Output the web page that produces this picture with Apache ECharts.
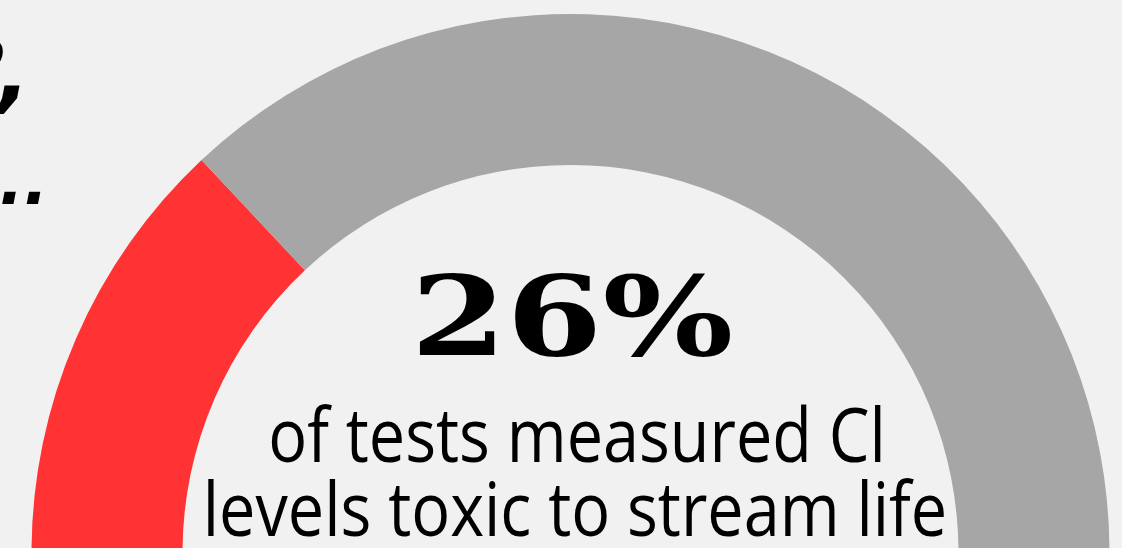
<!DOCTYPE html>
<html>
<head>
<meta charset="utf-8">
<script src="https://cdn.jsdelivr.net/npm/echarts@6/dist/echarts.min.js"></script>
<style>
  html, body { margin: 0; padding: 0; background: #f1f1f1; }
  #chart { width: 1122px; height: 548px; }
</style>
</head>
<body>
<div id="chart"></div>
<script>
// share of tests with toxic chloride levels
const categories = ['Toxic', 'Not toxic']
const values = [26, 74]
const colors = ['#ff3333', '#a6a6a6']
const captionLines = ['of tests measured Cl', 'levels toxic to stream life']

let myChart = echarts.init(document.getElementById('chart'))
myChart.setOption({
  backgroundColor: '#f1f1f1',
  animation: false,
  series: [
    {
      type: 'pie',
      center: [570.5, 553],
      radius: [388, 539],
      startAngle: 180,
      endAngle: 0,
      clockwise: true,
      silent: true,
      label: { show: false },
      labelLine: { show: false },
      data: categories.map(function (name, i) {
        return { name: name, value: values[i], itemStyle: { color: colors[i] } }
      })
    }
  ],
  graphic: [
    {
      type: 'text',
      x: 572,
      y: 382,
      scaleX: 1.24,
      style: {
        text: values[0] + '%',
        fontFamily: 'DejaVu Serif',
        fontWeight: 'bold',
        fontSize: 111,
        align: 'center',
        verticalAlign: 'bottom',
        fill: '#000'
      }
    },
    {
      type: 'text',
      x: 577,
      y: 441,
      scaleX: 0.863,
      style: {
        text: captionLines[0],
        fontFamily: 'Open Sans',
        fontSize: 75,
        align: 'center',
        verticalAlign: 'middle',
        fill: '#000'
      }
    },
    {
      type: 'text',
      x: 575,
      y: 515,
      scaleX: 0.863,
      style: {
        text: captionLines[1],
        fontFamily: 'Open Sans',
        fontSize: 75,
        align: 'center',
        verticalAlign: 'middle',
        fill: '#000'
      }
    },
    // cut-off text on the left edge
    {
      type: 'text',
      x: 5,
      y: 80,
      style: {
        text: '?',
        fontFamily: 'DejaVu Sans',
        fontStyle: 'italic',
        fontWeight: 'bold',
        fontSize: 85,
        align: 'right',
        verticalAlign: 'middle',
        fill: '#000'
      }
    },
    {
      type: 'text',
      x: 30,
      y: 80,
      style: {
        text: ',',
        fontFamily: 'DejaVu Sans',
        fontStyle: 'italic',
        fontWeight: 'bold',
        fontSize: 85,
        align: 'right',
        verticalAlign: 'middle',
        fill: '#000'
      }
    },
    {
      type: 'text',
      x: -25,
      y: 155,
      style: {
        text: '...',
        fontFamily: 'DejaVu Sans',
        fontStyle: 'italic',
        fontWeight: 'bold',
        fontSize: 64,
        fill: '#000'
      }
    }
  ]
})
</script>
</body>
</html>
